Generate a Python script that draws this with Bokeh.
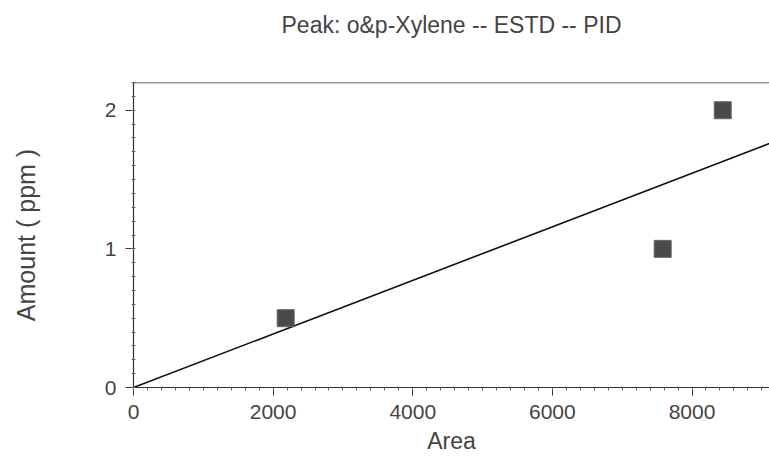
from bokeh.plotting import figure
from bokeh.models import Range1d, Title, SingleIntervalTicker
from bokeh.embed import file_html
from bokeh.resources import INLINE

# Data
area = [2180, 7580, 8440]
amount = [0.5, 1.0, 2.0]
fit_area = [0, 9110]
fit_amount = [0, 1.76]
title_text = "Peak: o&p-Xylene -- ESTD -- PID"

FONT = "Liberation Sans"
TXT = "#444444"
AX = "#333333"

p = figure(width=769, height=456, output_backend="svg", toolbar_location=None,
           x_range=Range1d(0, 9110), y_range=Range1d(0, 2.2),
           min_border_left=133, min_border_right=0, min_border_top=0, min_border_bottom=69)
p.outline_line_color = None
p.xgrid.visible = False
p.ygrid.visible = False

p.title = Title(text=title_text, align="center", text_font=FONT, text_font_size="23px",
                text_font_style="normal", text_color=TXT, standoff=18)
# spacer between title and frame
p.add_layout(Title(text=" ", text_font_size="2px", standoff=32), "above")

p.line(fit_area, fit_amount, line_color="#111111", line_width=1.6)
p.scatter(area, amount, marker="square", size=17, fill_color="#4a4a4a",
          line_color="#666666", line_width=1)

# top border line
p.line([0, 9110], [2.2, 2.2], line_color=AX, line_width=1.5)

for ax in (p.xaxis[0], p.yaxis[0]):
    ax.axis_line_color = AX
    ax.axis_line_width = 1.2
    ax.major_tick_line_color = AX
    ax.minor_tick_line_color = "#666666"
    ax.major_label_text_font = FONT
    ax.major_label_text_color = TXT
    ax.major_label_text_font_size = "21px"
    ax.axis_label_text_font = FONT
    ax.axis_label_text_color = TXT
    ax.axis_label_text_font_size = "23px"
    ax.axis_label_text_font_style = "normal"
    ax.major_tick_in = 0
    ax.major_tick_out = 8
    ax.minor_tick_in = 2
    ax.minor_tick_out = 2

p.xaxis[0].ticker = SingleIntervalTicker(interval=2000, num_minor_ticks=10)
p.yaxis[0].ticker = SingleIntervalTicker(interval=1, num_minor_ticks=10)

p.xaxis.axis_label = "Area"
p.xaxis.minor_tick_in = 0
p.xaxis.minor_tick_out = 3
p.xaxis.major_label_standoff = 9
p.xaxis.axis_label_standoff = 6

p.yaxis.axis_label = "Amount ( ppm )"
p.yaxis.axis_label_text_font_size = "25px"
p.yaxis.major_label_standoff = 9
p.yaxis.axis_label_standoff = 62

open("out.html", "w").write(file_html(p, INLINE))
